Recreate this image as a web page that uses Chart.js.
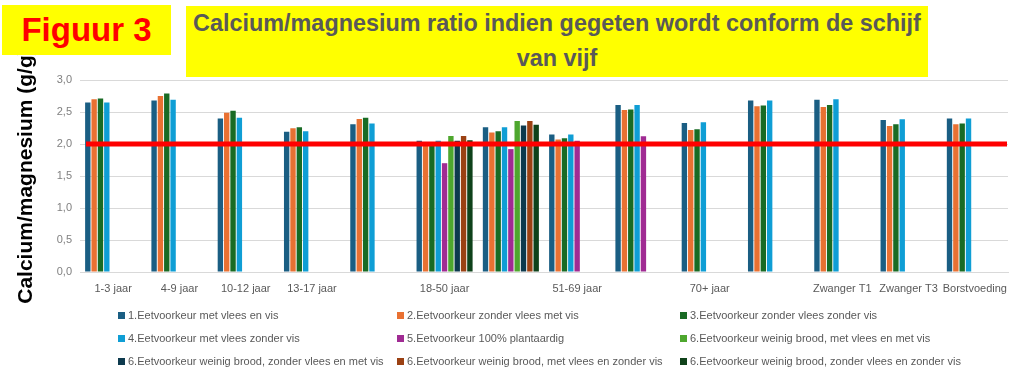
<!DOCTYPE html>
<html>
<head>
<meta charset="utf-8">
<script src="https://cdn.jsdelivr.net/npm/chart.js@4/dist/chart.umd.min.js"></script>
<style>
  html,body{margin:0;padding:0;background:#fff;}
  #wrap{position:relative;width:1024px;height:379px;overflow:hidden;font-family:"Liberation Sans",Arial,sans-serif;}
  #c{position:absolute;left:0;top:0;}
  #fig{position:absolute;left:2px;top:5px;width:169px;height:50px;background:#ffff00;color:#ff0000;
       font:bold 33px "Liberation Sans",Arial,sans-serif;display:flex;align-items:center;justify-content:center;z-index:2;}
  #title{position:absolute;left:186px;top:6px;width:742px;height:71px;background:#ffff00;color:#595959;
       font:bold 23.4px "Liberation Sans",Arial,sans-serif;text-align:center;line-height:35px;white-space:nowrap;z-index:2;}
  #legend{position:absolute;left:0;top:0;width:1024px;height:379px;pointer-events:none;z-index:2;}
  .li{position:absolute;font:11px "Liberation Sans",Arial,sans-serif;color:#595959;white-space:nowrap;display:flex;align-items:center;height:14px;}
  .sw{width:7px;height:7px;margin-right:3px;display:inline-block;}
</style>
</head>
<body>
<div id="wrap">
  <canvas id="c" width="1024" height="379"></canvas>
  <div id="fig">Figuur 3</div>
  <div id="title">Calcium/magnesium ratio indien gegeten wordt conform de schijf<br>van vijf</div>
  <div id="legend"></div>
</div>
<script>
// ---- data ----
const categories = ["1-3 jaar","4-9 jaar","10-12 jaar","13-17 jaar","","18-50 jaar","","51-69 jaar","","70+ jaar","","Zwanger T1","Zwanger T3","Borstvoeding"];
const seriesNames = [
  "1.Eetvoorkeur met vlees en vis",
  "2.Eetvoorkeur zonder vlees met vis",
  "3.Eetvoorkeur zonder vlees zonder vis",
  "4.Eetvoorkeur met vlees zonder vis",
  "5.Eetvoorkeur 100% plantaardig",
  "6.Eetvoorkeur weinig brood, met vlees en met vis",
  "6.Eetvoorkeur weinig brood, zonder vlees en met vis",
  "6.Eetvoorkeur weinig brood, met vlees en zonder vis",
  "6.Eetvoorkeur weinig brood, zonder vlees en zonder vis"
];
const s1 = [2.65,2.68,2.40,2.19,2.31,2.05,2.26,2.15,2.61,2.33,2.68,2.69,2.375,2.40];
const s2 = [2.70,2.75,2.49,2.245,2.39,2.00,2.18,2.07,2.53,2.22,2.59,2.58,2.28,2.31];
const s3 = [2.71,2.79,2.52,2.26,2.41,2.01,2.20,2.09,2.54,2.23,2.60,2.61,2.31,2.32];
const s4 = [2.65,2.69,2.41,2.20,2.32,2.05,2.26,2.15,2.61,2.34,2.68,2.70,2.385,2.40];
const s5 = [null,null,null,null,null,1.70,1.92,2.05,2.12,null,null,null,null,null];
const s6 = [null,null,null,null,null,2.125,2.36,null,null,null,null,null,null,null];
const s7 = [null,null,null,null,null,2.05,2.29,null,null,null,null,null,null,null];
const s8 = [null,null,null,null,null,2.125,2.36,null,null,null,null,null,null,null];
const s9 = [null,null,null,null,null,2.06,2.30,null,null,null,null,null,null,null];
const yTicks = [0,0.5,1.0,1.5,2.0,2.5,3.0];
const referenceValue = 2.0;

const colors = ["#1a5e83","#e97132","#196b24","#0f9ed5","#a02b93","#4ea72e","#0d3a4e","#9b4113","#0f421a"];
const allSeries = [s1,s2,s3,s4,s5,s6,s7,s8,s9];

const datasets = allSeries.map((d,i)=>({
  label: seriesNames[i], data: d, backgroundColor: colors[i],
  categoryPercentage: 0.86, barPercentage: 0.85
}));

const refLine = {
  id:'refLine',
  afterDatasetsDraw(chart){
    const {ctx, chartArea, scales:{y}} = chart;
    const py = y.getPixelForValue(referenceValue);
    ctx.save();
    ctx.strokeStyle = '#ff0000';
    ctx.lineWidth = 5;
    ctx.beginPath();
    ctx.moveTo(chartArea.left + 6, py);
    ctx.lineTo(chartArea.right - 1, py);
    ctx.stroke();
    ctx.restore();
  }
};

new Chart(document.getElementById('c'), {
  type: 'bar',
  data: { labels: categories, datasets },
  options: {
    responsive: false,
    animation: false,
    layout: { padding: { left: 0, right: 16, top: 80, bottom: 0 } },
    plugins: { legend: { display: false }, tooltip: { enabled: false } },
    scales: {
      x: {
        grid: { display: false, drawTicks: false },
        border: { display: true, color: '#d9d9d9', width: 1 },
        ticks: { color: '#595959', font: { family: '"Liberation Sans", Arial, sans-serif', size: 11 }, padding: 10, maxRotation: 0, autoSkip: false },
        afterFit(s){ s.height = 107; }
      },
      y: {
        min: 0, max: 3,
        afterBuildTicks(s){ s.ticks = yTicks.map(v=>({value:v})); },
        grid: { color: '#d9d9d9', lineWidth: 1, drawTicks: false },
        border: { display: false },
        ticks: { color: '#808080', font: { family: '"Liberation Sans", Arial, sans-serif', size: 11 }, padding: 8,
                 callback: v => Number(v).toFixed(1).replace('.', ',') },
        title: { display: true, text: 'Calcium/magnesium (g/g)', color: '#000000',
                 font: { family: '"Liberation Sans", Arial, sans-serif', size: 21, weight: 'bold' },
                 padding: { top: 14, bottom: 0 } },
        afterFit(s){ s.width = 80; }
      }
    }
  },
  plugins: [refLine]
});

// HTML legend built from the series
const legendCols = [118, 397, 680];
const legendRows = [315, 338, 361];
const lg = document.getElementById('legend');
seriesNames.forEach((name,i)=>{
  const el = document.createElement('div');
  el.className = 'li';
  el.style.left = legendCols[i%3] + 'px';
  el.style.top = (legendRows[Math.floor(i/3)] - 7) + 'px';
  el.innerHTML = '<span class="sw" style="background:'+colors[i]+'"></span>';
  el.appendChild(document.createTextNode(name));
  lg.appendChild(el);
});
</script>
</body>
</html>
